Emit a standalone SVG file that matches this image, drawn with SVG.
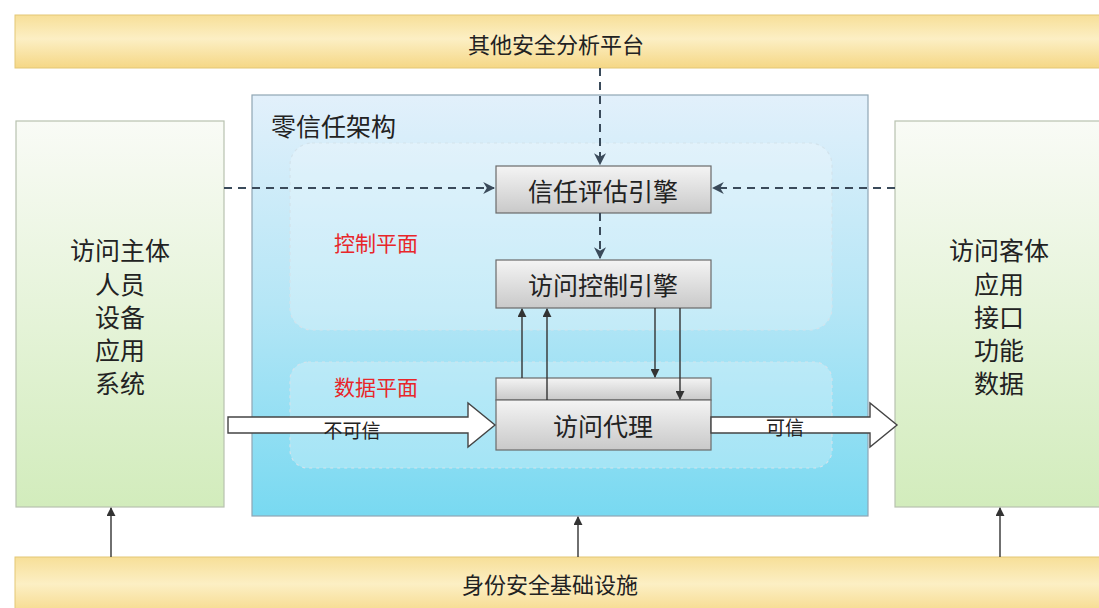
<svg xmlns="http://www.w3.org/2000/svg" width="1099" height="608" viewBox="0 0 1099 608">
<defs>
<linearGradient id="gYellow" x1="0" y1="0" x2="0" y2="1">
<stop offset="0" stop-color="#f7df98"/><stop offset="0.45" stop-color="#fcefc4"/><stop offset="1" stop-color="#f5d785"/>
</linearGradient>
<linearGradient id="gGreen" x1="0" y1="0" x2="0" y2="1">
<stop offset="0" stop-color="#f9fbf6"/><stop offset="1" stop-color="#d2ecbc"/>
</linearGradient>
<linearGradient id="gBlue" x1="0" y1="0" x2="0" y2="1">
<stop offset="0" stop-color="#e2f0fb"/><stop offset="0.5" stop-color="#b5e6f6"/><stop offset="1" stop-color="#78d9f1"/>
</linearGradient>
<linearGradient id="gGray" x1="0" y1="0" x2="0" y2="1">
<stop offset="0" stop-color="#f4f4f4"/><stop offset="1" stop-color="#c9c9c9"/>
</linearGradient>
<marker id="ah" viewBox="0 0 10 10" refX="9" refY="5" markerWidth="9" markerHeight="9" markerUnits="userSpaceOnUse" orient="auto">
<path d="M0,0 L10,5 L0,10 z" fill="#333"/>
</marker>
<marker id="ahd" viewBox="0 0 10 10" refX="9" refY="5" markerWidth="12" markerHeight="12" markerUnits="userSpaceOnUse" orient="auto">
<path d="M0,0 L10,5 L0,10 L3,5 z" fill="#3a4a5a"/>
</marker>
</defs>
<style>
.t{font-family:"Noto Sans CJK SC","Liberation Sans",sans-serif;fill:#222;text-anchor:middle;dominant-baseline:central}
.red{fill:#e8262a}
.side{font-size:25px}
.box{fill:url(#gGray);stroke:#6a6a6a;stroke-width:1.2}
.sol{stroke:#333;stroke-width:1.4;fill:none}
.dsh{stroke:#3a4a5a;stroke-width:2;stroke-dasharray:8,6;fill:none}
.plane{fill:#ffffff;fill-opacity:0.25;stroke:#d3e3ec;stroke-width:1.2;stroke-dasharray:3,4}
.big{fill:#ffffff;stroke:#444;stroke-width:1.4}
</style>
<rect width="1099" height="608" fill="#ffffff"/>

<g id="top-bar">
<rect x="15" y="15" width="1090" height="53" fill="url(#gYellow)" stroke="#e3c777" stroke-width="1"/>
<text class="t" x="556" y="43" font-size="22">其他安全分析平台</text>
</g>

<g id="bottom-bar">
<rect x="15" y="557" width="1090" height="60" fill="url(#gYellow)" stroke="#e3c777" stroke-width="1"/>
<text class="t" x="550" y="583" font-size="22">身份安全基础设施</text>
</g>

<g id="subject">
<rect x="16" y="121" width="208" height="386" fill="url(#gGreen)" stroke="#b8c2b0" stroke-width="1.2"/>
<text class="t side" x="120" y="249">访问主体</text>
<text class="t side" x="120" y="283">人员</text>
<text class="t side" x="120" y="316">设备</text>
<text class="t side" x="120" y="349">应用</text>
<text class="t side" x="120" y="382">系统</text>
</g>

<g id="object">
<rect x="895" y="121" width="215" height="386" fill="url(#gGreen)" stroke="#b8c2b0" stroke-width="1.2"/>
<text class="t side" x="999" y="249">访问客体</text>
<text class="t side" x="999" y="283">应用</text>
<text class="t side" x="999" y="316">接口</text>
<text class="t side" x="999" y="349">功能</text>
<text class="t side" x="999" y="382">数据</text>
</g>

<g id="zero-trust">
<rect x="252" y="95" width="616" height="421" fill="url(#gBlue)" stroke="#8fa6b4" stroke-width="1.2"/>
<text class="t" x="271" y="125" font-size="25" style="text-anchor:start">零信任架构</text>
</g>

<g id="control-plane">
<rect x="290" y="143" width="542" height="187" rx="22" class="plane"/>
<text class="t red" x="376" y="242" font-size="21">控制平面</text>
</g>

<g id="data-plane">
<rect x="290" y="362" width="542" height="106" rx="18" class="plane"/>
<text class="t red" x="376" y="386" font-size="21">数据平面</text>
</g>

<g id="trust-engine">
<rect x="496" y="166" width="215" height="47" class="box"/>
<text class="t" x="603" y="190" font-size="25">信任评估引擎</text>
</g>

<g id="access-control-engine">
<rect x="496" y="260" width="215" height="48" class="box"/>
<text class="t" x="603" y="284" font-size="25">访问控制引擎</text>
</g>

<g id="access-proxy">
<rect x="496" y="378" width="215" height="22" class="box"/>
<rect x="496" y="400" width="215" height="50" class="box"/>
<text class="t" x="603" y="425" font-size="25">访问代理</text>
</g>

<g id="connectors">
<line class="dsh" x1="600" y1="68" x2="600" y2="164" marker-end="url(#ahd)"/>
<line class="dsh" x1="224" y1="188" x2="494" y2="188" marker-end="url(#ahd)"/>
<line class="dsh" x1="895" y1="188" x2="713" y2="188" marker-end="url(#ahd)"/>
<line class="dsh" x1="600" y1="213" x2="600" y2="258" marker-end="url(#ahd)"/>
<line class="sol" x1="522" y1="378" x2="522" y2="309" marker-end="url(#ah)"/>
<line class="sol" x1="547" y1="400" x2="547" y2="309" marker-end="url(#ah)"/>
<line class="sol" x1="655" y1="308" x2="655" y2="377" marker-end="url(#ah)"/>
<line class="sol" x1="680" y1="308" x2="680" y2="399" marker-end="url(#ah)"/>
<line class="sol" x1="111" y1="557" x2="111" y2="508" marker-end="url(#ah)"/>
<line class="sol" x1="578" y1="557" x2="578" y2="517" marker-end="url(#ah)"/>
<line class="sol" x1="1000" y1="557" x2="1000" y2="508" marker-end="url(#ah)"/>
<path class="big" d="M228,417 L468,417 L468,403 L495,425 L468,447 L468,433 L228,433 Z"/>
<text class="t" x="352" y="429" font-size="19">不可信</text>
<path class="big" d="M711,417 L870,417 L870,403 L897,425 L870,447 L870,433 L711,433 Z"/>
<text class="t" x="785" y="426" font-size="19">可信</text>
</g>
</svg>
